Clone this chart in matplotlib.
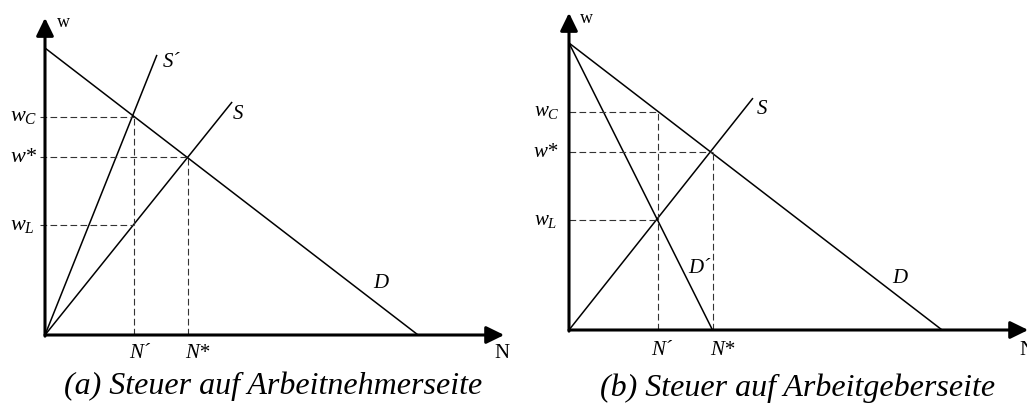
import matplotlib
matplotlib.use('Agg')
import matplotlib.pyplot as plt

plt.rcParams['font.family'] = ['Liberation Serif', 'DejaVu Serif']
plt.rcParams['mathtext.fontset'] = 'custom'
plt.rcParams['mathtext.it'] = 'Liberation Serif:italic'
plt.rcParams['mathtext.rm'] = 'Liberation Serif'

# curve end points (N, w)
demand = [(0.0, 10.0), (13.0, 0.0)]
supply_a = [(0.0, 0.0), (6.52, 8.12)]
supply_tax_a = [(0.0, 0.0), (3.90, 9.76)]
supply_b = [(0.0, 0.0), (6.41, 8.08)]
demand_tax_b = [(0.0, 10.0), (5.0, 0.0)]

# equilibrium values
n_prime = 3.10
n_star_a = 4.98
n_star_b = 5.0
w_c = 7.60
w_star = 6.20
w_l = 3.83

axis_len = (16.0, 11.05)
captions = ['(a) Steuer auf Arbeitnehmerseite', '(b) Steuer auf Arbeitgeberseite']

W, H = 1027, 405
px = 28.7  # pixels per unit

fig = plt.figure(figsize=(W / 100, H / 100), dpi=100)


def make_ax(left, right, ox, oy):
    ax = fig.add_axes([left / W, 0, (right - left) / W, 1])
    ax.set_xlim(-(ox - left) / px, (right - ox) / px)
    ax.set_ylim(-(H - oy) / px, oy / px)
    ax.axis('off')
    return ax


def draw_axes(ax):
    style = '-|>,head_length=0.45,head_width=0.22'
    for tip, start in [((axis_len[0], 0), (0, 0)), ((0, axis_len[1]), (0, -0.04))]:
        ax.annotate('', xy=tip, xytext=start, annotation_clip=False,
                    arrowprops=dict(arrowstyle=style, lw=2.2, color='k',
                                    mutation_scale=24, shrinkA=0, shrinkB=0))


def line(ax, pts):
    xs, ys = zip(*pts)
    ax.plot(xs, ys, color='k', lw=1.1, solid_capstyle='butt')


def dash(ax, xs, ys):
    ax.plot(xs, ys, color='#333333', lw=0.8, dashes=(6, 3))


def label(ax, x, y, s, size=15, italic=True):
    ax.text(x, y, s, fontsize=size, ha='left', va='center',
            style='italic' if italic else 'normal', clip_on=False)


# ---- (a) ----
ax = make_ax(0, 515, 45, 335)
line(ax, demand)
line(ax, supply_a)
line(ax, supply_tax_a)
dash(ax, [-0.16, n_prime], [w_c, w_c])
dash(ax, [-0.16, n_star_a], [w_star, w_star])
dash(ax, [-0.16, n_prime], [w_l, w_l])
dash(ax, [n_prime, n_prime], [0, w_c])
dash(ax, [n_star_a, n_star_a], [0, w_star])
draw_axes(ax)

label(ax, 0.42, 10.9, 'w', 13, italic=False)
label(ax, 15.65, -0.63, 'N', 15, italic=False)
label(ax, -1.22, w_c, '$w_C$', 16)
label(ax, -1.22, w_star, 'w*', 16)
label(ax, -1.22, w_l, '$w_L$', 16)
label(ax, n_prime - 0.18, -0.63, 'N´', 15)
label(ax, n_star_a - 0.08, -0.63, 'N*', 15)
label(ax, 4.11, 9.51, 'S´', 15)
label(ax, 6.55, 7.67, 'S', 15)
label(ax, 11.43, 1.81, 'D', 15)

# ---- (b) ----
ax = make_ax(515, W, 569, 330)
line(ax, demand)
line(ax, supply_b)
line(ax, demand_tax_b)
dash(ax, [0, n_prime], [w_c, w_c])
dash(ax, [0, n_star_b], [w_star, w_star])
dash(ax, [0, n_prime], [w_l, w_l])
dash(ax, [n_prime, n_prime], [0, w_c])
dash(ax, [n_star_b, n_star_b], [0, w_star])
draw_axes(ax)

label(ax, 0.38, 10.84, 'w', 13, italic=False)
label(ax, 15.7, -0.7, 'N', 15, italic=False)
label(ax, -1.22, w_c, '$w_C$', 15)
label(ax, -1.22, w_star, 'w*', 15)
label(ax, -1.22, w_l, '$w_L$', 15)
label(ax, n_prime - 0.22, -0.7, 'N´', 15)
label(ax, n_star_b - 0.08, -0.7, 'N*', 15)
label(ax, 6.55, 7.70, 'S', 15)
label(ax, 4.15, 2.16, 'D´', 15)
label(ax, 11.25, 1.81, 'D', 15)

fig.text(273 / W, 1 - 386 / H, captions[0], fontsize=23, style='italic',
         ha='center', va='center')
fig.text(798 / W, 1 - 388 / H, captions[1], fontsize=23, style='italic',
         ha='center', va='center')

fig.savefig('out.png', dpi=100)
